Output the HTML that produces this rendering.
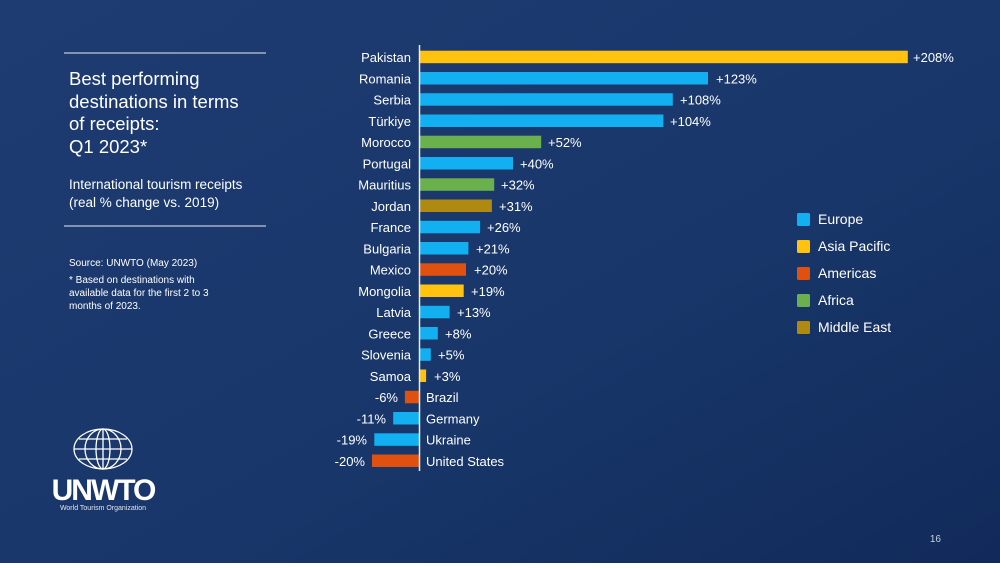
<!DOCTYPE html>
<html><head><meta charset="utf-8"><style>
html,body{margin:0;padding:0}
body{width:1000px;height:563px;overflow:hidden;font-family:"Liberation Sans",sans-serif}
</style></head><body>
<svg width="1000" height="563" viewBox="0 0 1000 563" xmlns="http://www.w3.org/2000/svg" font-family="Liberation Sans, sans-serif">
<defs>
<linearGradient id="bg" x1="0" y1="0" x2="1" y2="1">
<stop offset="0" stop-color="#1e3c72"/><stop offset="0.6" stop-color="#183669"/><stop offset="1" stop-color="#112a5a"/>
</linearGradient>
</defs>
<rect width="1000" height="563" fill="url(#bg)"/>
<line x1="64" y1="53" x2="266" y2="53" stroke="#e8ecf4" stroke-width="1"/>
<line x1="64" y1="226" x2="266" y2="226" stroke="#e8ecf4" stroke-width="1"/>
<g fill="#fff" font-size="18.5">
<text x="69" y="85">Best performing</text>
<text x="69" y="108">destinations in terms</text>
<text x="69" y="130">of receipts:</text>
<text x="69" y="153">Q1 2023*</text>
</g>
<g fill="#fff" font-size="13.5">
<text x="69" y="189">International tourism receipts</text>
<text x="69" y="207">(real % change vs. 2019)</text>
</g>
<g fill="#fff" font-size="10">
<text x="69" y="266">Source: UNWTO (May 2023)</text>
<text x="69" y="283">*  Based on destinations with</text>
<text x="69" y="296">available data for the first 2 to 3</text>
<text x="69" y="309">months of 2023.</text>
</g>
<!-- logo -->
<g stroke="#fff" stroke-width="1.3" fill="none">
<ellipse cx="103" cy="449" rx="29" ry="20"/>
<ellipse cx="103" cy="449" rx="18" ry="20"/>
<ellipse cx="103" cy="449" rx="7" ry="20"/>
<line x1="103" y1="429" x2="103" y2="469"/>
<line x1="74" y1="449" x2="132" y2="449"/>
<line x1="79" y1="439" x2="127" y2="439"/>
<line x1="79" y1="459" x2="127" y2="459"/>
</g>
<text x="103" y="500" fill="#fff" font-size="30" font-weight="bold" text-anchor="middle" letter-spacing="-2">UNWTO</text>
<text x="103" y="510" fill="#dfe6f2" font-size="7" text-anchor="middle">World Tourism Organization</text>
<text x="941" y="542" fill="#c8d0e0" font-size="10" text-anchor="end">16</text>
<!-- bars -->
<g font-size="13" fill="#fff">
<rect x="419" y="50.7" width="488.8" height="12.5" fill="#ffc20e"/><text x="411" y="62" text-anchor="end">Pakistan</text><text x="913" y="62">+208%</text>
<rect x="419" y="72" width="289" height="12.5" fill="#12b0f0"/><text x="411" y="83.3" text-anchor="end">Romania</text><text x="716" y="83.3">+123%</text>
<rect x="419" y="93.2" width="253.8" height="12.5" fill="#12b0f0"/><text x="411" y="104.5" text-anchor="end">Serbia</text><text x="680" y="104.5">+108%</text>
<rect x="419" y="114.5" width="244.4" height="12.5" fill="#12b0f0"/><text x="411" y="125.8" text-anchor="end">Türkiye</text><text x="670" y="125.8">+104%</text>
<rect x="419" y="135.7" width="122.2" height="12.5" fill="#6ab04c"/><text x="411" y="147" text-anchor="end">Morocco</text><text x="548" y="147">+52%</text>
<rect x="419" y="157" width="94" height="12.5" fill="#12b0f0"/><text x="411" y="168.3" text-anchor="end">Portugal</text><text x="520" y="168.3">+40%</text>
<rect x="419" y="178.3" width="75.2" height="12.5" fill="#6ab04c"/><text x="411" y="189.6" text-anchor="end">Mauritius</text><text x="501" y="189.6">+32%</text>
<rect x="419" y="199.5" width="72.9" height="12.5" fill="#b08a10"/><text x="411" y="210.8" text-anchor="end">Jordan</text><text x="499" y="210.8">+31%</text>
<rect x="419" y="220.8" width="61.1" height="12.5" fill="#12b0f0"/><text x="411" y="232.1" text-anchor="end">France</text><text x="487" y="232.1">+26%</text>
<rect x="419" y="242" width="49.4" height="12.5" fill="#12b0f0"/><text x="411" y="253.3" text-anchor="end">Bulgaria</text><text x="476" y="253.3">+21%</text>
<rect x="419" y="263.3" width="47" height="12.5" fill="#e0500f"/><text x="411" y="274.6" text-anchor="end">Mexico</text><text x="474" y="274.6">+20%</text>
<rect x="419" y="284.5" width="44.7" height="12.5" fill="#ffc20e"/><text x="411" y="295.8" text-anchor="end">Mongolia</text><text x="471" y="295.8">+19%</text>
<rect x="419" y="305.8" width="30.6" height="12.5" fill="#12b0f0"/><text x="411" y="317.1" text-anchor="end">Latvia</text><text x="457" y="317.1">+13%</text>
<rect x="419" y="327" width="18.8" height="12.5" fill="#12b0f0"/><text x="411" y="338.3" text-anchor="end">Greece</text><text x="445" y="338.3">+8%</text>
<rect x="419" y="348.3" width="11.8" height="12.5" fill="#12b0f0"/><text x="411" y="359.6" text-anchor="end">Slovenia</text><text x="438" y="359.6">+5%</text>
<rect x="419" y="369.5" width="7.1" height="12.5" fill="#ffc20e"/><text x="411" y="380.8" text-anchor="end">Samoa</text><text x="434" y="380.8">+3%</text>
<rect x="404.9" y="390.8" width="14.1" height="12.5" fill="#e0500f"/><text x="426" y="402.1">Brazil</text><text x="398" y="402.1" text-anchor="end">-6%</text>
<rect x="393.2" y="412" width="25.8" height="12.5" fill="#12b0f0"/><text x="426" y="423.3">Germany</text><text x="386" y="423.3" text-anchor="end">-11%</text>
<rect x="374.3" y="433.3" width="44.7" height="12.5" fill="#12b0f0"/><text x="426" y="444.6">Ukraine</text><text x="367" y="444.6" text-anchor="end">-19%</text>
<rect x="372" y="454.5" width="47" height="12.5" fill="#e0500f"/><text x="426" y="465.8">United States</text><text x="365" y="465.8" text-anchor="end">-20%</text>
</g>
<line x1="419.5" y1="45" x2="419.5" y2="471" stroke="#e8ecf4" stroke-width="1.5"/>
<!-- legend -->
<g font-size="14" fill="#fff">
<rect x="797" y="213" width="13" height="13" rx="1.5" fill="#12b0f0"/><text x="818" y="224">Europe</text>
<rect x="797" y="240" width="13" height="13" rx="1.5" fill="#ffc20e"/><text x="818" y="251">Asia Pacific</text>
<rect x="797" y="267" width="13" height="13" rx="1.5" fill="#e0500f"/><text x="818" y="278">Americas</text>
<rect x="797" y="294" width="13" height="13" rx="1.5" fill="#6ab04c"/><text x="818" y="305">Africa</text>
<rect x="797" y="321" width="13" height="13" rx="1.5" fill="#b08a10"/><text x="818" y="332">Middle East</text>
</g>
</svg>
</body></html>
